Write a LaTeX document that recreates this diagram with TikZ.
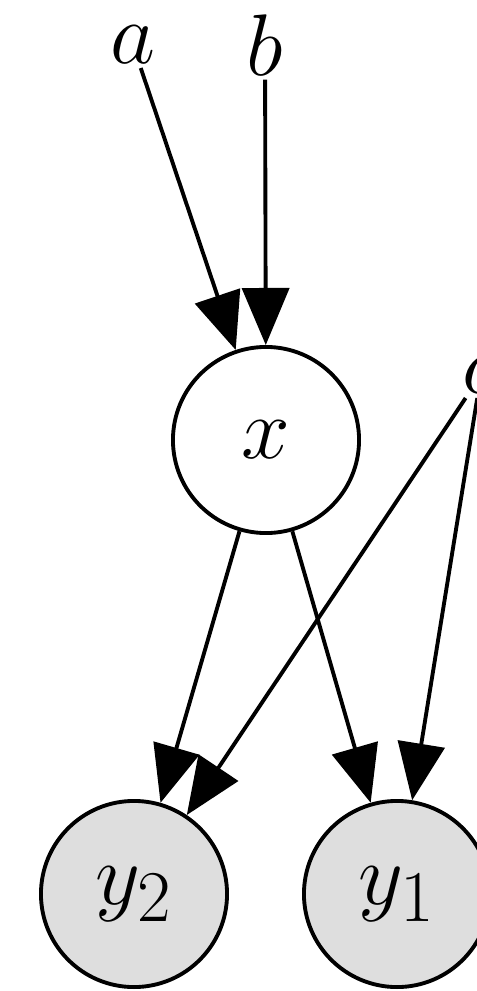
\documentclass[tikz,border=0pt]{standalone}
\usepackage{tikz}
\usetikzlibrary{arrows.meta}

\begin{document}
\begin{tikzpicture}[
  x=0.01cm, y=-0.01cm,
  var/.style={
    circle, draw=black, line width=1.1pt,
    minimum size=1.86cm, inner sep=0pt,
    font=\fontsize{29}{34}\selectfont
  },
  obs/.style={var, fill=black!13},
  param/.style={inner sep=1pt, font=\fontsize{29}{34}\selectfont},
  edge/.style={
    line width=1.1pt,
    -{Triangle[length=0.57cm, width=0.47cm]}
  }
]
\useasboundingbox (0,0) rectangle (477,991);
% parameters
\node[param] (a) at (133, 45) {$a$};
\node[param] (b) at (265, 45) {$b$};
\node[param] (c) at (481, 375) {$c$};
% latent and observed variables
\node[var] (x) at (266, 440) {$x$};
\node[obs] (y2) at (134, 894) {$y_2$};
\node[obs] (y1) at (397, 894) {$y_1$};
% edges
\draw[edge] (a) -- (x);
\draw[edge] (b) -- (x);
\draw[edge] (x) -- (y2);
\draw[edge] (x) -- (y1);
\draw[edge] (c) -- (y2);
\draw[edge] (c) -- (y1);
\end{tikzpicture}
\end{document}
